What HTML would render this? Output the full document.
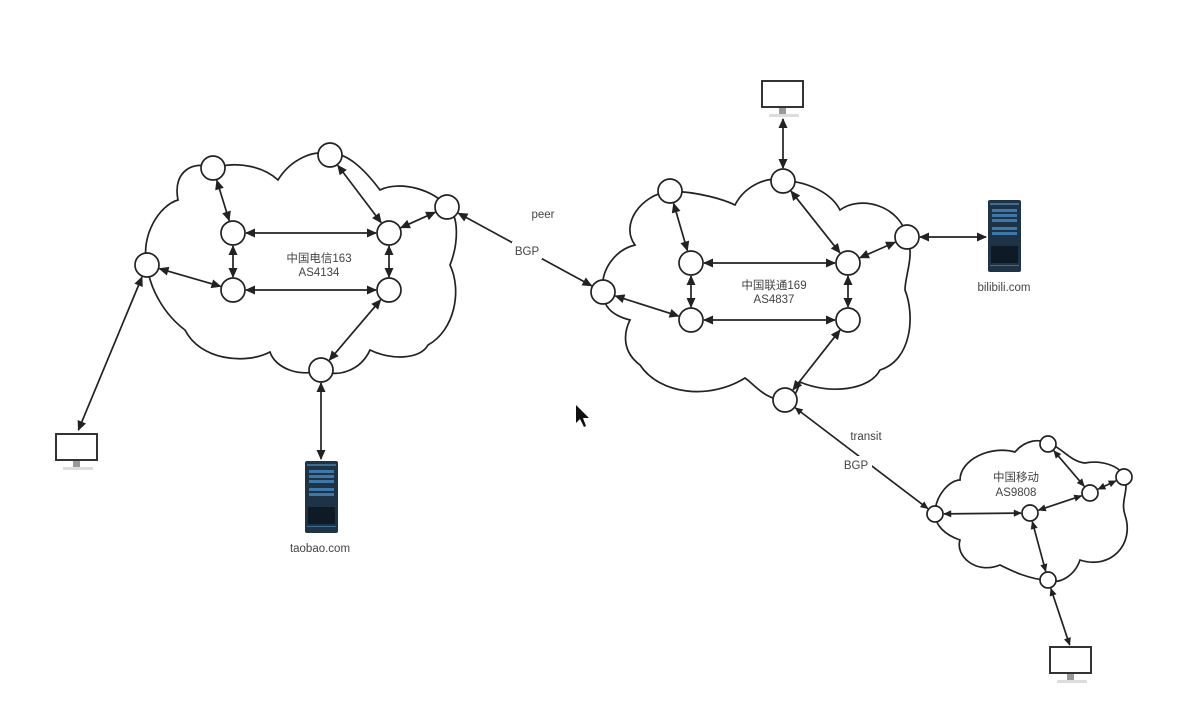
<!DOCTYPE html>
<html><head><meta charset="utf-8"><style>
html,body{margin:0;padding:0;background:#fff;}
svg{display:block;}
text{font-family:"Liberation Sans","Noto Sans CJK SC",sans-serif;font-size:11.5px;fill:#444;}
</style></head><body>
<svg id="s" width="1183" height="710" viewBox="0 0 1183 710" xmlns="http://www.w3.org/2000/svg">
<defs>
<marker id="ah" viewBox="0 0 10 10" refX="9" refY="5" markerWidth="11" markerHeight="10" orient="auto-start-reverse" markerUnits="userSpaceOnUse">
<path d="M0,0.5 L10,5 L0,9.5 z" fill="#222"/></marker>
<marker id="ah2" viewBox="0 0 10 10" refX="9" refY="5" markerWidth="9" markerHeight="8" orient="auto-start-reverse" markerUnits="userSpaceOnUse">
<path d="M0,0.5 L10,5 L0,9.5 z" fill="#222"/></marker>
<g id="mon">
<rect x="0" y="0" width="41" height="26" fill="#fff" stroke="#333" stroke-width="2"/>
<rect x="17" y="27" width="7" height="6" fill="#999"/>
<rect x="7" y="33" width="30" height="3" fill="#ddd"/>
</g>
<g id="srv">
<rect x="0" y="0" width="33" height="72" rx="2" fill="#1f3346"/>
<rect x="2" y="3" width="29" height="2" fill="#3f6d8f"/>
<rect x="4" y="9" width="25" height="3" fill="#3d78a8"/>
<rect x="4" y="14" width="25" height="3" fill="#3d78a8"/>
<rect x="4" y="19" width="25" height="3" fill="#3d78a8"/>
<rect x="4" y="27" width="25" height="3" fill="#3d78a8"/>
<rect x="4" y="32" width="25" height="3" fill="#3d78a8"/>
<rect x="3" y="46" width="27" height="17" fill="#0e1b27"/>
<rect x="2" y="65" width="29" height="1" fill="#3f6d8f"/>
</g>
</defs>
<g fill="none" stroke="#222" stroke-width="1.7">
<path d="M147,265 C140,235 160,205 178,200 C172,170 195,160 213,168 C240,160 265,168 278,180 C290,160 315,148 330,155 C345,150 365,170 380,190 C400,180 435,190 447,207 C460,215 458,245 450,265 C462,290 455,330 428,345 C420,360 390,360 370,350 C360,372 335,378 321,370 C300,378 275,368 270,352 C245,365 200,360 185,330 C165,315 150,290 147,265 Z"/>
<path d="M603,292 C600,270 615,250 635,245 C620,225 640,195 670,191 C700,192 725,200 735,205 C745,185 770,175 783,181 C800,180 830,190 840,210 C860,195 900,205 907,237 C915,255 905,275 905,290 C915,315 912,360 880,370 C870,390 830,395 800,382 C795,400 785,405 785,400 C765,400 755,385 745,378 C710,400 660,395 640,365 C620,350 625,330 630,320 C610,315 603,305 603,292 Z"/>
<path d="M935,514 C935,495 950,480 960,480 C960,460 990,445 1015,452 C1025,440 1040,438 1048,444 C1060,445 1070,462 1085,463 C1100,460 1120,465 1124,477 C1130,490 1120,500 1125,515 C1135,545 1110,570 1080,560 C1075,575 1060,585 1048,580 C1030,580 1010,570 1000,565 C975,575 955,555 960,540 C945,535 935,525 935,514 Z"/>
</g>
<g id="edges" stroke="#222" stroke-width="1.7" fill="none"></g>
<g id="nodes" fill="#fff" stroke="#222" stroke-width="1.7"></g>
<use href="#mon" x="56" y="434"/>
<use href="#mon" x="762" y="81"/>
<use href="#mon" x="1050" y="647"/>
<use href="#srv" x="305" y="461"/>
<use href="#srv" x="988" y="200"/>
<rect x="512" y="242" width="30" height="17" fill="#fff"/>
<rect x="840" y="456" width="32" height="17" fill="#fff"/>
<text x="319" y="262" text-anchor="middle">中国电信163</text>
<text x="319" y="276" text-anchor="middle">AS4134</text>
<text x="774" y="289" text-anchor="middle">中国联通169</text>
<text x="774" y="303" text-anchor="middle">AS4837</text>
<text x="1016" y="481" text-anchor="middle">中国移动</text>
<text x="1016" y="496" text-anchor="middle">AS9808</text>
<text x="543" y="218" text-anchor="middle">peer</text>
<text x="527" y="255" text-anchor="middle">BGP</text>
<text x="866" y="440" text-anchor="middle">transit</text>
<text x="856" y="469" text-anchor="middle">BGP</text>
<text x="320" y="552" text-anchor="middle">taobao.com</text>
<text x="1004" y="291" text-anchor="middle">bilibili.com</text>
<path d="M576,405 L576,423 L580,419 L584,427 L586,426 L583,418 L589,418 Z" fill="#111"/>
</svg>
<script>
var N={A:[213,168,12],B:[330,155,12],C:[447,207,12],D:[233,233,12],E:[389,233,12],F:[147,265,12],G:[233,290,12],H:[389,290,12],I:[321,370,12],
J:[603,292,12],K:[670,191,12],L:[783,181,12],M:[907,237,12],Nn:[691,263,12],O:[848,263,12],P:[691,320,12],Q:[848,320,12],R:[785,400,12],
S:[935,514,8],T:[1048,444,8],U:[1124,477,8],V:[1090,493,8],W:[1030,513,8],X:[1048,580,8],
m1:[78,431,0],m2:[783,118,0],m3:[1070,646,0],s1:[321,460,0],s2:[987,237,0]};
var E=[["A","D"],["B","E"],["C","E"],["D","E"],["D","G"],["E","H"],["F","G"],["G","H"],["H","I"],["I","s1"],["F","m1"],["C","J"],
["K","Nn"],["L","O"],["M","O"],["Nn","O"],["Nn","P"],["O","Q"],["J","P"],["P","Q"],["Q","R"],["L","m2"],["M","s2"],["R","S"],
["S","W"],["T","V"],["U","V"],["V","W"],["W","X"],["X","m3"]];
var ns="http://www.w3.org/2000/svg",eg=document.getElementById("edges"),ng=document.getElementById("nodes");
E.forEach(function(e){var a=N[e[0]],b=N[e[1]];var dx=b[0]-a[0],dy=b[1]-a[1],L=Math.hypot(dx,dy),ux=dx/L,uy=dy/L;
var l=document.createElementNS(ns,"line");l.setAttribute("x1",a[0]+ux*(a[2]+1));l.setAttribute("y1",a[1]+uy*(a[2]+1));
l.setAttribute("x2",b[0]-ux*(b[2]+1));l.setAttribute("y2",b[1]-uy*(b[2]+1));
var m=(a[2]==8||b[2]==8)?"url(#ah2)":"url(#ah)";l.setAttribute("marker-start",m);l.setAttribute("marker-end",m);eg.appendChild(l);});
for(var k in N){var n=N[k];if(!n[2])continue;var c=document.createElementNS(ns,"circle");c.setAttribute("cx",n[0]);c.setAttribute("cy",n[1]);c.setAttribute("r",n[2]);ng.appendChild(c);}
</script>
</body></html>
